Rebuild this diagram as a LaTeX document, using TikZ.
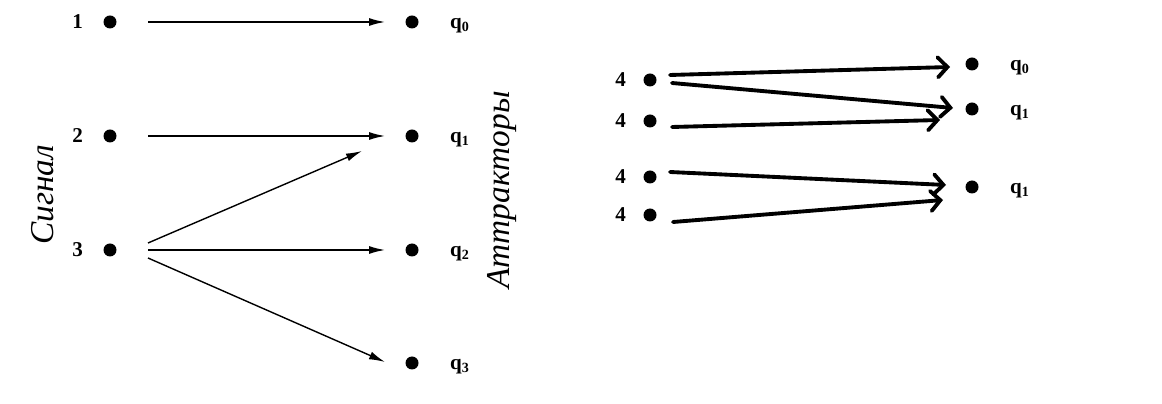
\documentclass[tikz,border=0pt]{standalone}
\usepackage{fontspec}
\setmainfont{Liberation Serif}
\usepackage{tikz}
\usetikzlibrary{arrows.meta, positioning, calc}

\begin{document}
\begin{tikzpicture}[
    x=0.02cm, y=-0.02cm,
    every node/.style={font=\large\bfseries},
    dot/.style={circle, fill=black, inner sep=0pt, minimum size=0.26cm},
    axis/.style={font=\itshape\fontsize{19}{20}\selectfont, rotate=90},
    arrow/.style={-{Latex[length=0.32cm, width=0.16cm]}, line width=0.8pt},
    fatarrow/.style={-{Straight Barb[length=0.19cm, width=0.4cm, line cap=round]}, line width=2.2pt, line cap=round}
]
\useasboundingbox (0,0) rectangle (1162,404);
% signals and attractors
\node[dot] (s1) at (110,22) {};
\node[dot] (s2) at (110,136) {};
\node[dot] (s3) at (110,250) {};
\node[dot] (a0) at (412,22) {};
\node[dot] (a1) at (412,136) {};
\node[dot] (a2) at (412,250) {};
\node[dot] (a3) at (412,363) {};
\node[left=0.28cm of s1] (l1) {1};
\node[left=0.28cm of s2] (l2) {2};
\node[left=0.28cm of s3] (l3) {3};
\node[right=0.5cm of a0, yshift=-2pt] (m0) {q$_\mathbf{0}$};
\node[right=0.5cm of a1, yshift=-2pt] (m1) {q$_\mathbf{1}$};
\node[right=0.5cm of a2, yshift=-2pt] (m2) {q$_\mathbf{2}$};
\node[right=0.5cm of a3, yshift=-2pt] (m3) {q$_\mathbf{3}$};
\node[axis] (sig) at (43,195) {Сигнал};
\node[axis] (att) at (502,190) {Аттракторы};
\draw[arrow] ($(s1)+(38,0)$) -- ($(a0)+(-27,0)$);
\draw[arrow] ($(s2)+(38,0)$) -- ($(a1)+(-27,0)$);
\draw[arrow] ($(s3)+(38,-7)$) -- ($(a1)+(-50,15)$);
\draw[arrow] ($(s3)+(38,0)$) -- ($(a2)+(-27,0)$);
\draw[arrow] ($(s3)+(38,8)$) -- ($(a3)+(-27,-1)$);
% second group
\node[dot] (b1) at (650,80) {};
\node[dot] (b2) at (650,121) {};
\node[dot] (b3) at (650,177) {};
\node[dot] (b4) at (650,215) {};
\node[dot] (c0) at (972,64) {};
\node[dot] (c1) at (972,109) {};
\node[dot] (c2) at (972,187) {};
\node[left=0.22cm of b1] (k1) {4};
\node[left=0.22cm of b2] (k2) {4};
\node[left=0.22cm of b3] (k3) {4};
\node[left=0.22cm of b4] (k4) {4};
\node[right=0.5cm of c0, yshift=-2pt] (n0) {q$_\mathbf{0}$};
\node[right=0.5cm of c1, yshift=-2pt] (n1) {q$_\mathbf{1}$};
\node[right=0.5cm of c2, yshift=-2pt] (n2) {q$_\mathbf{1}$};
\draw[fatarrow] ($(b1)+(20,-5)$) -- ($(c0)+(-22,3)$);
\draw[fatarrow] ($(b1)+(22,3)$) -- ($(c1)+(-19,-1)$);
\draw[fatarrow] ($(b2)+(22,6)$) -- ($(c1)+(-32,11)$);
\draw[fatarrow] ($(b3)+(20,-5)$) -- ($(c2)+(-26,-2)$);
\draw[fatarrow] ($(b4)+(23,7)$) -- ($(c2)+(-29,13)$);
\end{tikzpicture}
\end{document}
